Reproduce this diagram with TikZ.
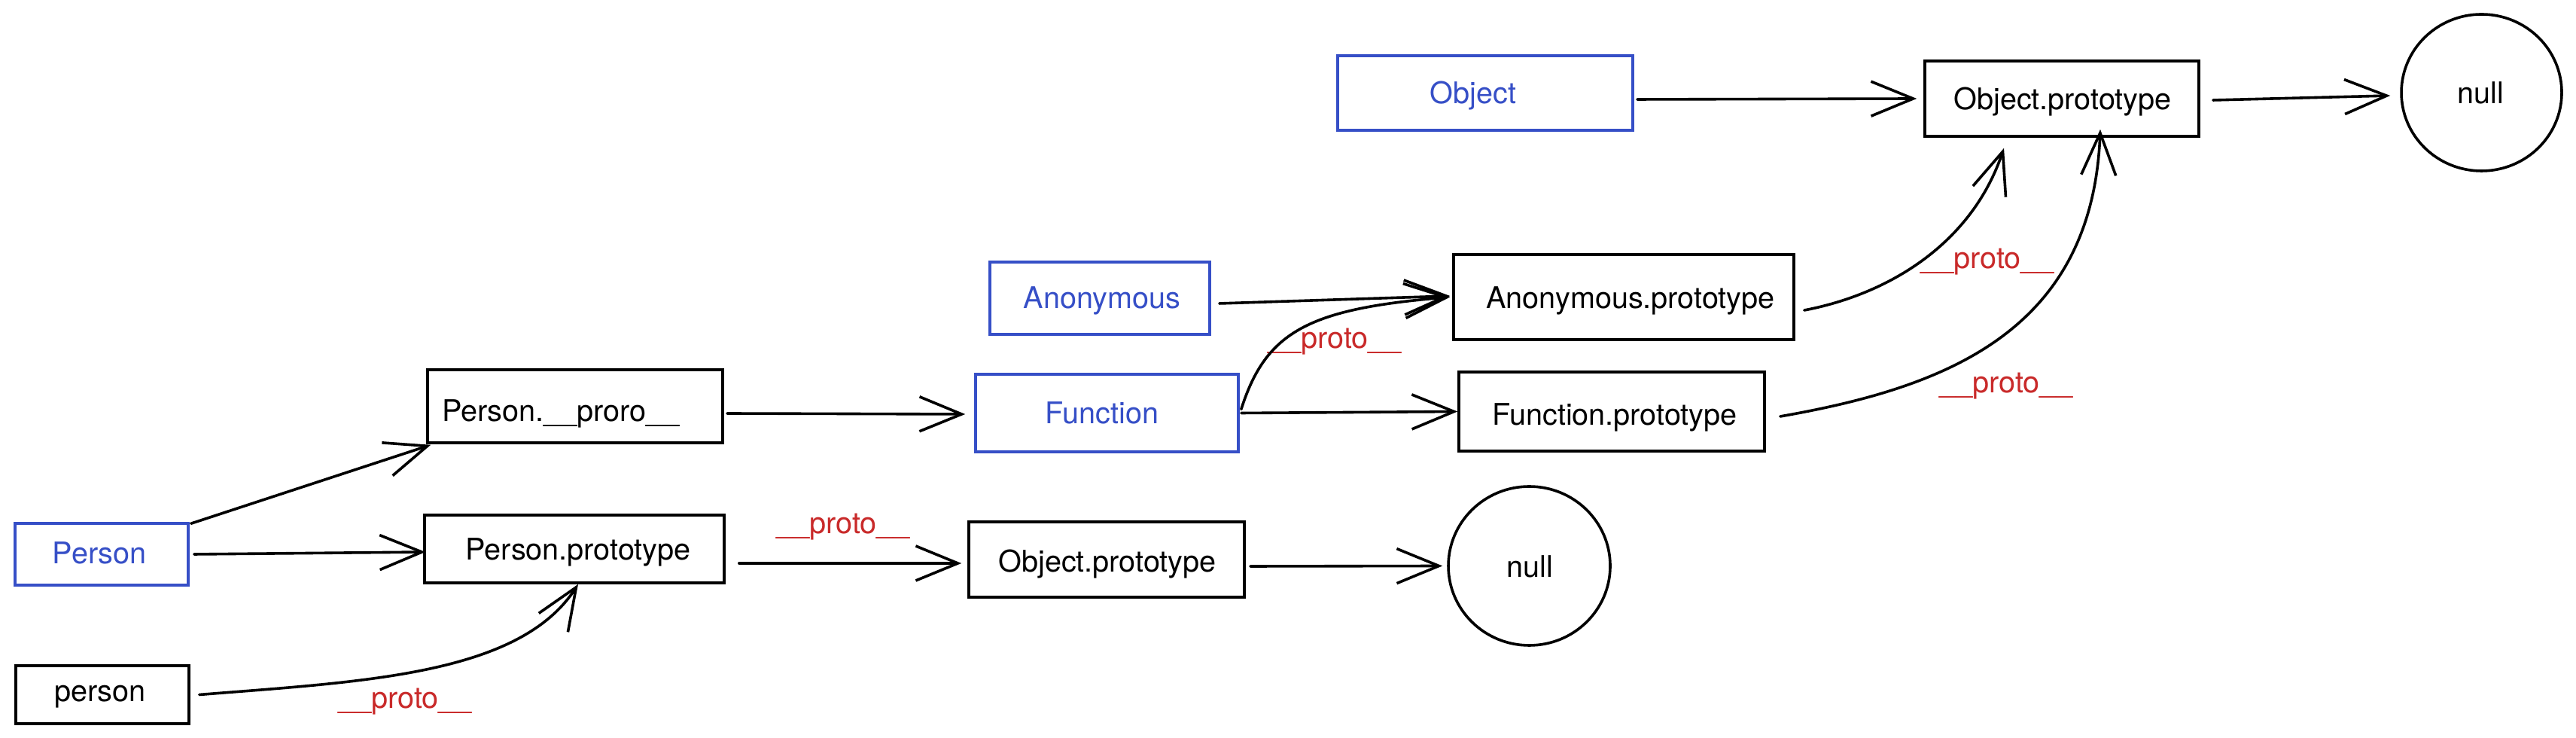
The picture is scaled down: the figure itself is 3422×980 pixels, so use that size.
\documentclass[tikz,border=0pt]{standalone}
\usepackage{fontspec}
\setmainfont{TeX Gyre Heros}
\usetikzlibrary{arrows.meta,shapes.geometric}
\definecolor{exblue}{HTML}{364FC7}
\definecolor{exred}{HTML}{C92A2A}
\begin{document}
\begin{tikzpicture}[x=0.25pt,y=-0.25pt,
  box/.style={draw, line width=0.9pt, inner sep=0pt, rectangle},
  bluebox/.style={box, draw=exblue},
  ell/.style={draw, line width=0.9pt, ellipse, inner sep=0pt},
  txt/.style={anchor=base, inner sep=0pt, font=\fontsize{9.9}{12}\selectfont},
  bluetxt/.style={txt, text=exblue},
  redtxt/.style={txt, text=exred},
  conn/.style={line width=0.9pt, -{Straight Barb[length=14pt,width=11.5pt]}, line cap=round, line join=round},
]
\useasboundingbox[fill=white] (0,0) rectangle (3422,980);

% boxes
\node[bluebox, minimum width=57.5pt, minimum height=20.5pt] (Person) at (135,736) {};
\node[box, minimum width=57.5pt, minimum height=19.25pt] (person) at (136,922.5) {};
\node[box, minimum width=98pt, minimum height=24.25pt] (PersonProro) at (764,539.5) {};
\node[box, minimum width=99.5pt, minimum height=22.5pt] (PersonProto) at (763,729) {};
\node[box, minimum width=91.5pt, minimum height=25pt] (ObjProtoB) at (1470,743) {};
\node[bluebox, minimum width=87.25pt, minimum height=25.75pt] (Function) at (1470.5,548.5) {};
\node[bluebox, minimum width=73pt, minimum height=24pt] (Anonymous) at (1461,396) {};
\node[box, minimum width=113pt, minimum height=28.25pt] (AnonProto) at (2157,394.5) {};
\node[box, minimum width=101.5pt, minimum height=26.25pt] (FuncProto) at (2141,546.5) {};
\node[bluebox, minimum width=98pt, minimum height=24.75pt] (Object) at (1973,123.5) {};
\node[box, minimum width=91pt, minimum height=25pt] (ObjProtoT) at (2739,131) {};
\node[ell, minimum width=53.25pt, minimum height=52pt] (nullT) at (3296.5,123) {};
\node[ell, minimum width=53.75pt, minimum height=52.75pt] (nullB) at (2031.5,751.5) {};

% texts
\node[bluetxt] (tPerson) at (132,749) {Person};
\node[txt] (tperson) at (133,932) {person};
\node[txt] (tPersonProro) at (745,560) {Person.\_\_proro\_\_};
\node[txt] (tPersonProto) at (768,744) {Person.prototype};
\node[txt] (tObjProtoB) at (1471,760) {Object.prototype};
\node[bluetxt] (tFunction) at (1464,563) {Function};
\node[bluetxt] (tAnonymous) at (1464,410) {Anonymous};
\node[txt] (tAnonProto) at (2166,410) {Anonymous.prototype};
\node[txt] (tFuncProto) at (2145,565) {Function.prototype};
\node[bluetxt] (tObject) at (1957,138) {Object};
\node[txt] (tObjProtoT) at (2740,146) {Object.prototype};
\node[txt] (tnullT) at (3295,138) {null};
\node[txt] (tnullB) at (2032,767) {null};

% labels
\node[redtxt] (l1) at (538,941) {\_\_proto\_\_};
\node[redtxt] (l2) at (1120,709) {\_\_proto\_\_};
\node[redtxt] (l3) at (1773,463) {\_\_proto\_\_};
\node[redtxt] (l4) at (2640,357) {\_\_proto\_\_};
\node[redtxt] (l5) at (2665,522) {\_\_proto\_\_};

% connectors
\draw[conn] ([shift={(2,2)}]Person.north east) -- ([shift={(6,1)}]PersonProro.south west);
\draw[conn] ([shift={(6,0)}]Person.east) -- ([shift={(3,4)}]PersonProto.west);
\draw[conn] ([shift={(12,0)}]person.east) .. controls +(217,-17.5) and +(-78,121) .. ([shift={(5,0)}]PersonProto.south);
\draw[conn] ([shift={(4,9.5)}]PersonProro.east) -- ([shift={(-12,1.5)}]Function.west);
\draw[conn] ([shift={(18,19)}]PersonProto.east) -- ([shift={(-8,5)}]ObjProtoB.west);
\draw[conn] ([shift={(6,9)}]ObjProtoB.east) -- ([shift={(-6,0)}]nullB.west);
\draw[conn] ([shift={(2,0)}]Function.east) -- (FuncProto.west);
\draw[conn] ([shift={(2,-5)}]Function.east) .. controls +(33,-103.5) and +(-188,15.5) .. ([shift={(-3,0)}]AnonProto.west);
\draw[conn] ([shift={(11,7)}]Anonymous.east) -- ([shift={(-3,-1.5)}]AnonProto.west);
\draw[conn] ([shift={(4,8.5)}]Object.east) -- ([shift={(-9,0)}]ObjProtoT.west);
\draw[conn] ([shift={(17,2)}]ObjProtoT.east) -- ([shift={(-13,4)}]nullT.west);
\draw[conn] ([shift={(12,17.5)}]AnonProto.east) .. controls +(115,-22) and +(-42,125) .. ([shift={(-77,14)}]ObjProtoT.south);
\draw[conn] ([shift={(19,6.5)}]FuncProto.east) .. controls +(217,-38) and +(-10,270) .. ([shift={(51,-11)}]ObjProtoT.south);
\end{tikzpicture}
\end{document}
